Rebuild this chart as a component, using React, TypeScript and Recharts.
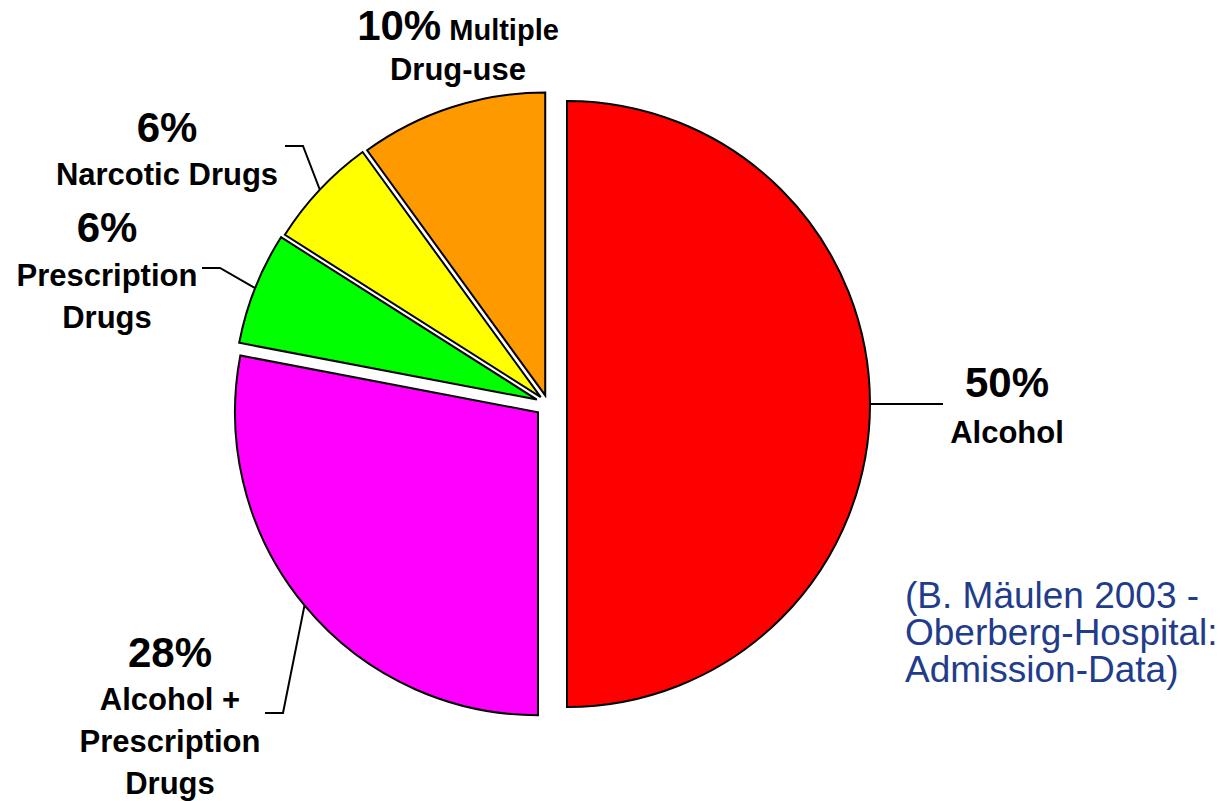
import { PieChart, Pie, Sector } from "recharts";

const categories = [
  "Alcohol",
  "Alcohol + Prescription Drugs",
  "Prescription Drugs",
  "Narcotic Drugs",
  "Multiple Drug-use",
];
const shares = [50, 28, 6, 6, 10];
const labelLines = [
  ["Alcohol"],
  ["Alcohol +", "Prescription", "Drugs"],
  ["Prescription", "Drugs"],
  ["Narcotic Drugs"],
  ["Multiple", "Drug-use"],
];

const data = categories.map((name, i) => ({ name, value: shares[i] }));

// styling / layout
const sliceColors = ["#FF0000", "#FF00FF", "#00FF00", "#FFFF00", "#FF9900"];
const explode = [19, 13, 12, 10, 9];
const labelPos = [
  { x: 1007, pctY: 397, nameY: 443, gap: 42, leader: [[943, 404]] },
  { x: 170, pctY: 667, nameY: 710, gap: 42, leader: [[283, 713], [265, 713]] },
  { x: 107, pctY: 242, nameY: 286, gap: 42, leader: [[220, 268], [202, 268]] },
  { x: 167, pctY: 142, nameY: 185, gap: 42, leader: [[303, 146], [285, 146]] },
  { x: 458, pctY: 40, nameY: 80, gap: 40, leader: [] as number[][] },
];

const FONT = "Arial, 'Liberation Sans', Helvetica, sans-serif";
const RAD = Math.PI / 180;

function renderSlice(props: any) {
  const { cx, cy, outerRadius, startAngle, endAngle, index, value } = props;
  const mid = (startAngle + endAngle) / 2;
  const d = explode[index];
  const ox = cx + d * Math.cos(-mid * RAD);
  const oy = cy + d * Math.sin(-mid * RAD);
  const ax = ox + outerRadius * Math.cos(-mid * RAD);
  const ay = oy + outerRadius * Math.sin(-mid * RAD);
  const pos = labelPos[index];
  const pts = [[ax, ay], ...pos.leader].map((p) => p.join(",")).join(" ");
  const lines = labelLines[index];
  const isMultiple = index === 4;

  return (
    <g key={`slice-${index}`}>
      <Sector
        cx={ox}
        cy={oy}
        innerRadius={0}
        outerRadius={outerRadius}
        startAngle={startAngle}
        endAngle={endAngle}
        fill={sliceColors[index]}
        stroke="#000"
        strokeWidth={2}
      />
      {pos.leader.length > 0 && (
        <polyline points={pts} fill="none" stroke="#000" strokeWidth={2} />
      )}
      <g fontFamily={FONT} fontWeight="bold" fill="#000" textAnchor="middle">
        {isMultiple ? (
          <>
            <text x={pos.x} y={pos.pctY}>
              <tspan fontSize={42}>{`${value}%`}</tspan>
              <tspan fontSize={29}>{` ${lines[0]}`}</tspan>
            </text>
            <text x={pos.x} y={pos.nameY} fontSize={31}>
              {lines[1]}
            </text>
          </>
        ) : (
          <>
            <text x={pos.x} y={pos.pctY} fontSize={42}>{`${value}%`}</text>
            {lines.map((t, i) => (
              <text key={t} x={pos.x} y={pos.nameY + i * pos.gap} fontSize={31}>
                {t}
              </text>
            ))}
          </>
        )}
      </g>
    </g>
  );
}

export default function App() {
  return (
    <div style={{ position: "absolute", left: 0, top: 0, width: 1228, height: 801, background: "#fff" }}>
      <PieChart width={1228} height={801} margin={{ top: 0, right: 0, bottom: 0, left: 0 }}>
        <Pie
          data={data}
          dataKey="value"
          nameKey="name"
          cx={548}
          cy={404}
          outerRadius={303}
          startAngle={90}
          endAngle={-270}
          fill="transparent"
          stroke="none"
          label={renderSlice}
          labelLine={false}
          isAnimationActive={false}
        />
      </PieChart>
      <div
        style={{
          position: "absolute",
          left: 905,
          top: 577,
          fontFamily: FONT,
          fontSize: 37,
          lineHeight: "37px",
          color: "#223C8C",
          whiteSpace: "nowrap",
        }}
      >
        (B. Mäulen 2003 -<br />
        Oberberg-Hospital:<br />
        Admission-Data)
      </div>
    </div>
  );
}
